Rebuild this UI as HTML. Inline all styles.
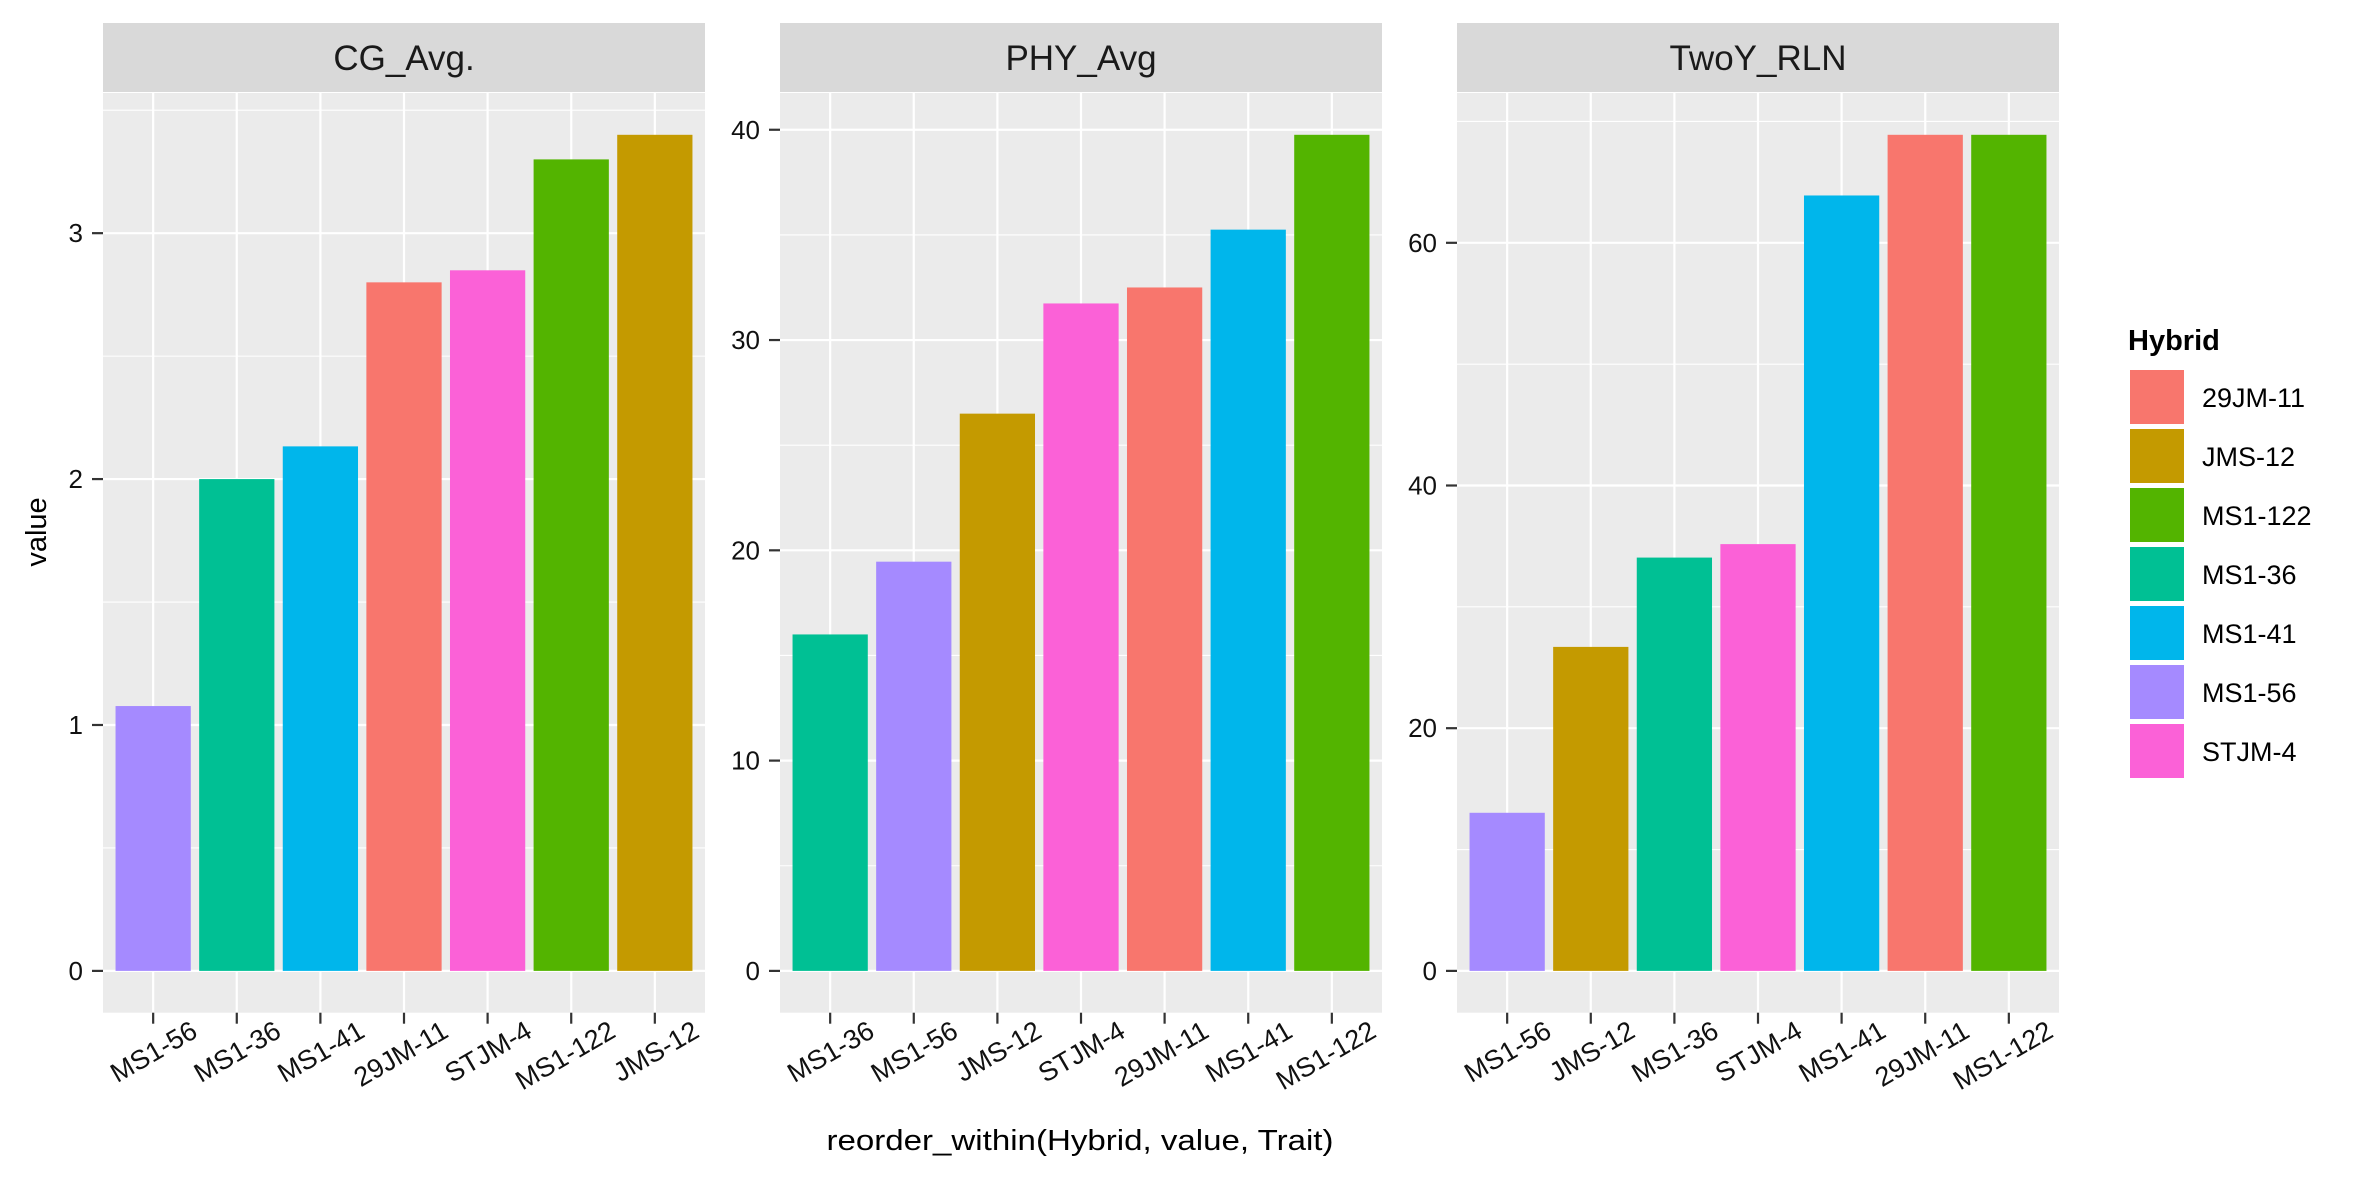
<!DOCTYPE html>
<html><head><meta charset="utf-8"><style>
html,body{margin:0;padding:0;background:#fff;}
svg{display:block;font-family:"Liberation Sans",Arial,sans-serif;}
</style></head><body>
<svg id="chart" width="2362" height="1181" viewBox="0 0 2362 1181" xmlns="http://www.w3.org/2000/svg">
<rect width="2362" height="1181" fill="#fff"/>
<g id="panels"></g>
<text x="1080" y="1150" font-size="29" text-anchor="middle" textLength="507" lengthAdjust="spacingAndGlyphs">reorder_within(Hybrid, value, Trait)</text>
<text transform="translate(46,532) rotate(-90)" font-size="29" text-anchor="middle">value</text>
<g id="legend"></g>
</svg>
<script>
const traits = ["CG_Avg.", "PHY_Avg", "TwoY_RLN"];
const cgCats = ["MS1-56","MS1-36","MS1-41","29JM-11","STJM-4","MS1-122","JMS-12"];
const cgVals = [1.077, 2.0, 2.133, 2.8, 2.849, 3.3, 3.4];
const phyCats = ["MS1-36","MS1-56","JMS-12","STJM-4","29JM-11","MS1-41","MS1-122"];
const phyVals = [16.0, 19.46, 26.5, 31.74, 32.5, 35.25, 39.76];
const rlnCats = ["MS1-56","JMS-12","MS1-36","STJM-4","MS1-41","29JM-11","MS1-122"];
const rlnVals = [13.03, 26.7, 34.06, 35.17, 63.9, 68.9, 68.9];
const cgTicks = [0, 1, 2, 3];
const phyTicks = [0, 10, 20, 30, 40];
const rlnTicks = [0, 20, 40, 60];
const cgMinor = [0.5, 1.5, 2.5, 3.5];
const phyMinor = [5, 15, 25, 35];
const rlnMinor = [10, 30, 50, 70];
const hybrids = ["29JM-11","JMS-12","MS1-122","MS1-36","MS1-41","MS1-56","STJM-4"];
const hybridColors = ["#F8766D","#C49A00","#53B400","#00C094","#00B6EB","#A58AFF","#FB61D7"];

const NS = "http://www.w3.org/2000/svg";
function mk(tag, attrs, parent){
  const e = document.createElementNS(NS, tag);
  for (const k in attrs) e.setAttribute(k, attrs[k]);
  if (parent) parent.appendChild(e);
  return e;
}
const panelsG = document.getElementById("panels");
const panelLefts = [103, 780, 1457];
const PW = 602, PT = 93, PB = 1012.7, ST = 23, SB = 92;
const datasets = [
  {cats: cgCats, vals: cgVals, ticks: cgTicks, minor: cgMinor},
  {cats: phyCats, vals: phyVals, ticks: phyTicks, minor: phyMinor},
  {cats: rlnCats, vals: rlnVals, ticks: rlnTicks, minor: rlnMinor}
];
datasets.forEach((d, pi) => {
  const L = panelLefts[pi];
  const maxV = Math.max(...d.vals);
  const lo = -0.05 * maxV, hi = maxV * 1.05;
  const yS = v => PB - (v - lo) / (hi - lo) * (PB - PT);
  const n = d.cats.length;
  const step = PW / (n - 1 + 1.2);
  const xS = i => L + (i + 0.6) * step;
  const g = mk("g", {}, panelsG);
  
  
  const strip = mk("rect", {x: L, y: ST, width: PW, height: SB - ST, fill: "#D9D9D9"}, g);
  
  
  const st = mk("text", {x: L + PW / 2, y: 70, "font-size": 35, "text-anchor": "middle", fill: "#1A1A1A"}, g);
  st.textContent = traits[pi];
  
  
  const bg = mk("rect", {x: L, y: PT, width: PW, height: PB - PT, fill: "#EBEBEB"}, g);
  
  
  d.minor.forEach(v => {
    const y = yS(v);
    if (y > PT && y < PB) {
      const ln = mk("line", {x1: L, x2: L + PW, y1: y, y2: y, stroke: "#fff", "stroke-width": 1.1}, g);
      
      
    }
  });
  d.ticks.forEach(v => {
    const y = yS(v);
    const ln = mk("line", {x1: L, x2: L + PW, y1: y, y2: y, stroke: "#fff", "stroke-width": 2.2}, g);
    
    
    const tk = mk("line", {x1: L - 11, x2: L, y1: y, y2: y, stroke: "#333", "stroke-width": 2.2}, g);
    
    
    const t = mk("text", {x: L - 20, y: y + 9, "font-size": 26, "text-anchor": "end", fill: "#111"}, g);
    t.textContent = v;
    
    
  });
  d.cats.forEach((c, i) => {
    const x = xS(i);
    const ln = mk("line", {x1: x, x2: x, y1: PT, y2: PB, stroke: "#fff", "stroke-width": 2.2}, g);
    
    
  });
  d.cats.forEach((c, i) => {
    const x = xS(i);
    const bw = step * 0.9;
    const y0 = yS(0), y1 = yS(d.vals[i]);
    const bar = mk("rect", {x: x - bw / 2, y: y1, width: bw, height: y0 - y1, fill: hybridColors[hybrids.indexOf(c)]}, g);
    
    
    const tk = mk("line", {x1: x, x2: x, y1: PB, y2: PB + 11, stroke: "#333", "stroke-width": 2.2}, g);
    
    
    const tx = x + 46, ty = 1036;
    const t = mk("text", {x: tx, y: ty, "font-size": 27, "text-anchor": "end", fill: "#111", transform: "rotate(-30 " + tx + " " + ty + ")"}, g);
    t.textContent = c;
    
    
  });
});
const lg = document.getElementById("legend");
const lt = mk("text", {x: 2128, y: 350, "font-size": 29, "font-weight": "bold", fill: "#000"}, lg);
lt.textContent = "Hybrid";


hybrids.forEach((h, i) => {
  const y = 370 + i * 59;
  const k = mk("rect", {x: 2130, y: y, width: 54, height: 54, fill: hybridColors[i]}, lg);
  
  
  const t = mk("text", {x: 2202, y: y + 37, "font-size": 27, fill: "#000"}, lg);
  t.textContent = h;
  
  
});
</script>
</body></html>
